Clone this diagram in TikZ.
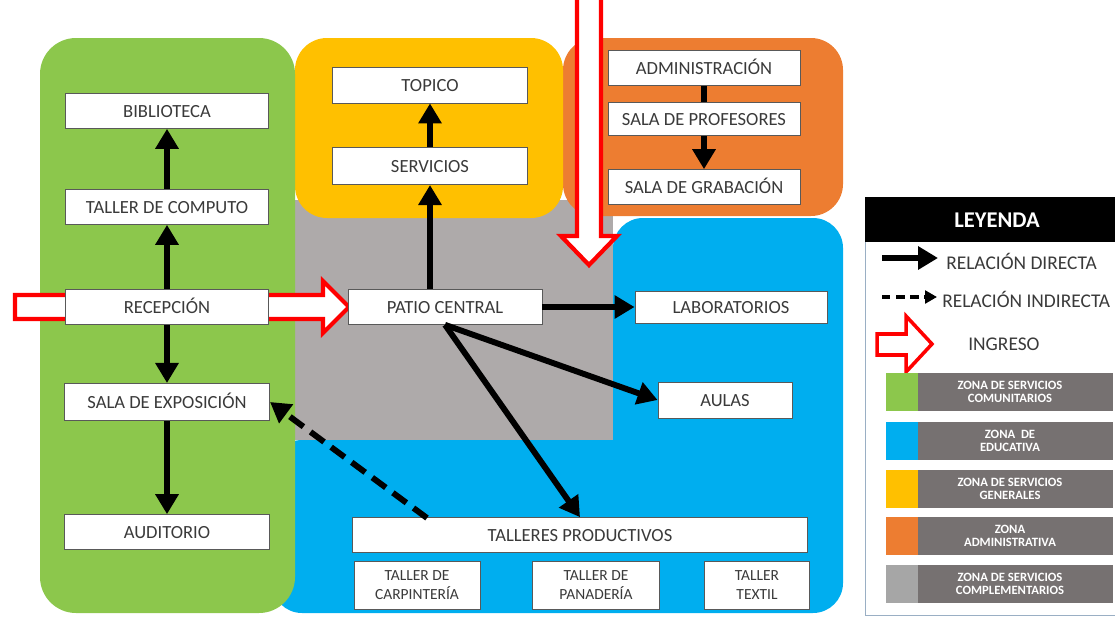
\documentclass[tikz,border=0pt]{standalone}
\usepackage{fontspec}
\setmainfont{Carlito}
\usetikzlibrary{arrows.meta}

\definecolor{zgreen}{HTML}{8CC74C}
\definecolor{zyellow}{HTML}{FFC000}
\definecolor{zorange}{HTML}{ED7D31}
\definecolor{zblue}{HTML}{00AEEF}
\definecolor{zgray}{HTML}{AEAAAA}
\definecolor{legbar}{HTML}{767171}
\definecolor{legswatch}{HTML}{A6A6A6}
\definecolor{boxline}{HTML}{595959}
\definecolor{txtgray}{HTML}{3A3A3A}
\definecolor{legline}{HTML}{9AAFC4}

\begin{document}
\begin{tikzpicture}[x = 0.025cm, y = -0.025cm,
    box/.style = {draw = boxline, line width = 0.6pt, fill = white, inner sep = 1pt,
        minimum height = 0.87cm, text = txtgray, text height = 8.6pt, text depth = 0pt,
        font = \fontsize{13.2}{15}\selectfont},
    smallbox/.style = {draw = boxline, line width = 0.6pt, fill = white, inner sep = 1pt,
        align = center, minimum height = 1.2cm, text = txtgray,
        font = \fontsize{11}{13.5}\selectfont},
    arr/.style = {line width = 4.2pt, -{Triangle[length = 0.5cm, width = 0.56cm]}},
    dasharr/.style = {arr, dash pattern = on 0.42cm off 0.22cm},
    ingreso/.style = {draw = red, fill = white, line width = 3pt, line join = miter},
    legtext/.style = {anchor = west, inner sep = 0pt, text = txtgray,
        font = \fontsize{13.8}{15}\selectfont},
    zonatext/.style = {align = center, inner sep = 0pt, text = white,
        font = \fontsize{9}{9.5}\selectfont\bfseries}]
    \useasboundingbox (0,0) rectangle (1115,618);

    % zonas
    \fill[zblue, rounded corners = 0.75cm] (613,440) -- (613,218) -- (843,218)
        -- (843,613) -- (272,613) -- (272,440) -- cycle;
    \fill[zgray] (295,200) rectangle (613,440);
    \fill[zorange, rounded corners = 0.8cm] (563,38) rectangle (843,216);
    \fill[zyellow, rounded corners = 0.8cm] (295,38) rectangle (563,218);
    \fill[zgreen, rounded corners = 0.9cm] (40,38) rectangle (295,613);

    % ingresos
    \draw[ingreso] (15,295) -- (323,295) -- (323,281) -- (349,307) -- (323,333)
        -- (323,319) -- (15,319) -- cycle;
    \draw[ingreso] (577,-10) -- (577,236) -- (561,236) -- (589,265) -- (617,236)
        -- (601,236) -- (601,-10) -- cycle;

    \node[box, minimum width = 5.08cm] (bib) at (167,111) {BIBLIOTECA};
    \node[box, minimum width = 5.08cm] (comp) at (167,207) {TALLER DE COMPUTO};
    \node[box, minimum width = 5.08cm] (recep) at (167,307) {RECEPCIÓN};
    \node[box, minimum width = 5.13cm, minimum height = 0.93cm] (expo) at (167,402) {SALA DE EXPOSICIÓN};
    \node[box, minimum width = 5.13cm] (audi) at (167,532) {AUDITORIO};
    \node[box, minimum width = 4.88cm, minimum height = 0.9cm] (topico) at (430,85) {TOPICO};
    \node[box, minimum width = 4.88cm, minimum height = 0.93cm] (serv) at (430,166) {SERVICIOS};
    \node[box, minimum width = 4.8cm] (admin) at (704,68) {ADMINISTRACIÓN};
    \node[box, minimum width = 4.8cm, minimum height = 0.83cm] (prof) at (704,119) {SALA DE PROFESORES};
    \node[box, minimum width = 4.8cm] (grab) at (704,187) {SALA DE GRABACIÓN};
    \node[box, minimum width = 4.85cm] (patio) at (445,307) {PATIO CENTRAL};
    \node[box, minimum width = 4.8cm, minimum height = 0.8cm] (lab) at (731,307) {LABORATORIOS};
    \node[box, minimum width = 3.35cm, minimum height = 0.9cm] (aulas) at (725,400) {AULAS};
    \node[box, minimum width = 11.38cm] (tprod) at (580,535) {TALLERES PRODUCTIVOS};
    \node[smallbox, minimum width = 3.15cm] (carp) at (417,585) {TALLER DE\\CARPINTERÍA};
    \node[smallbox, minimum width = 3.18cm] (pan) at (596,585) {TALLER DE\\PANADERÍA};
    \node[smallbox, minimum width = 2.63cm] (textil) at (757,585) {TALLER\\TEXTIL};

    \draw[arr] (comp) -- (bib);
    \draw[arr] (recep) -- (comp);
    \draw[arr] (recep) -- (expo);
    \draw[arr] (expo) -- (audi);
    \draw[arr] (serv) -- (topico);
    \draw[arr] (patio.north -| serv) -- (serv);
    \draw[line width = 4.2pt] (admin) -- (prof);
    \draw[arr] (prof) -- (grab);
    \draw[arr] (patio) -- (lab);
    \draw[arr] (patio.south) -- (aulas.west);
    \draw[arr] (patio.south) -- (tprod.north);
    \coordinate (dstart) at (427,518);
    \draw[dasharr] (dstart) -- (expo.east);

    % leyenda
    \draw[legline, fill = white, line width = 0.6pt] (865,197) rectangle (1115,615);
    \fill[black] (865,197) rectangle (1115,242);
    \node[text = white, font = \fontsize{16}{18}\selectfont\bfseries] (leyenda) at (997,220) {LEYENDA};
    \coordinate (da) at (882,258);
    \coordinate (db) at (938,258);
    \draw[arr] (da) -- (db);
    \node[legtext] (directa) at (946,261) {RELACIÓN DIRECTA};
    \coordinate (ia) at (882,297);
    \coordinate (ib) at (937,297);
    \draw[line width = 3pt, dash pattern = on 6pt off 4pt,
        -{Triangle[length = 0.3cm, width = 0.32cm]}] (ia) -- (ib);
    \node[legtext] (indirecta) at (942,299) {RELACIÓN INDIRECTA};
    \draw[ingreso, line width = 2.5pt] (877,334) -- (906,334) -- (906,316) -- (932,344)
        -- (906,372) -- (906,355) -- (877,355) -- cycle;
    \node[legtext] (ingtxt) at (968,344) {INGRESO};

    \fill[zgreen] (886,373) rectangle (918,411);
    \fill[legbar] (918,373) rectangle (1113,411);
    \node[zonatext] (zcom) at (1010,392) {ZONA DE SERVICIOS\\COMUNITARIOS};
    \fill[zblue] (886,422) rectangle (918,460);
    \fill[legbar] (918,422) rectangle (1113,460);
    \node[zonatext] (zedu) at (1010,441) {ZONA~ DE\\EDUCATIVA};
    \fill[zyellow] (886,470) rectangle (918,508);
    \fill[legbar] (918,470) rectangle (1113,508);
    \node[zonatext] (zgen) at (1010,489) {ZONA DE SERVICIOS\\GENERALES};
    \fill[zorange] (886,517) rectangle (918,555);
    \fill[legbar] (918,517) rectangle (1113,555);
    \node[zonatext] (zadm) at (1010,536) {ZONA\\ADMINISTRATIVA};
    \fill[legswatch] (886,565) rectangle (918,603);
    \fill[legbar] (918,565) rectangle (1113,603);
    \node[zonatext] (zcpl) at (1010,584) {ZONA DE SERVICIOS\\COMPLEMENTARIOS};
\end{tikzpicture}
\end{document}
